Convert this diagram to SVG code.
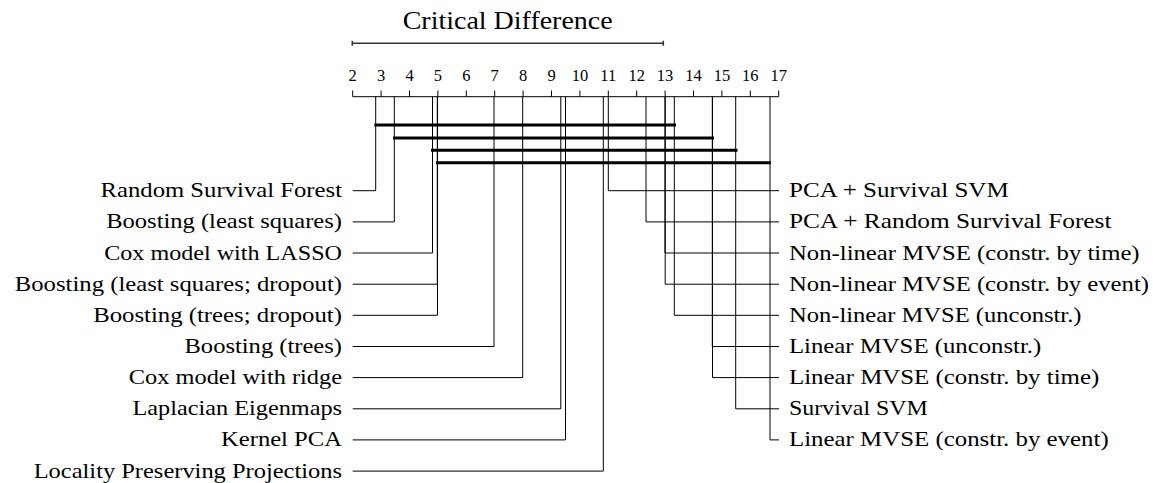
<svg xmlns="http://www.w3.org/2000/svg" width="1153" height="483" viewBox="0 0 1153 483">
<style>
text{font-family:"Liberation Serif","DejaVu Serif",serif;fill:#000}
.lbl{font-size:21px}
.l{text-anchor:end}
.tk{font-size:16.5px;text-anchor:middle}
.ttl{font-size:26px;text-anchor:middle}
.ax{stroke:#000;stroke-width:1;fill:none}
.cd{stroke:#333;stroke-width:1.6;fill:none}
.con{stroke:#000;stroke-width:1;fill:none}
.bar{stroke:#000;stroke-width:3;fill:none}
</style>
<rect width="1153" height="483" fill="#fff"/>
<g id="cd-scale" font-family="Liberation Serif, DejaVu Serif, serif">
<text class="ttl" x="507.7" y="28.5" textLength="210" lengthAdjust="spacingAndGlyphs">Critical Difference</text>
<path class="cd" d="M352.3 43.3H663.3M352.3 40.8V45.8M663.3 40.8V45.8"/>
</g>
<g id="axis" font-family="Liberation Serif, DejaVu Serif, serif">
<path class="ax" d="M352.7 96.7H778.7M352.7 90.5V96.7M381.1 90.5V96.7M409.5 90.5V96.7M437.9 90.5V96.7M466.3 90.5V96.7M494.7 90.5V96.7M523.1 90.5V96.7M551.5 90.5V96.7M579.9 90.5V96.7M608.3 90.5V96.7M636.7 90.5V96.7M665.1 90.5V96.7M693.5 90.5V96.7M721.9 90.5V96.7M750.3 90.5V96.7M778.7 90.5V96.7"/>
<text class="tk" x="352.7" y="81">2</text>
<text class="tk" x="381.1" y="81">3</text>
<text class="tk" x="409.5" y="81">4</text>
<text class="tk" x="437.9" y="81">5</text>
<text class="tk" x="466.3" y="81">6</text>
<text class="tk" x="494.7" y="81">7</text>
<text class="tk" x="523.1" y="81">8</text>
<text class="tk" x="551.5" y="81">9</text>
<text class="tk" x="579.9" y="81">10</text>
<text class="tk" x="608.3" y="81">11</text>
<text class="tk" x="636.7" y="81">12</text>
<text class="tk" x="665.1" y="81">13</text>
<text class="tk" x="693.5" y="81">14</text>
<text class="tk" x="721.9" y="81">15</text>
<text class="tk" x="750.3" y="81">16</text>
<text class="tk" x="778.7" y="81">17</text>
</g>
<g id="connectors">
<path class="con" d="M375.7 96.7V190.7H352.7"/>
<path class="con" d="M394.3 96.7V221.9H352.7"/>
<path class="con" d="M432.5 96.7V253H352.7"/>
<path class="con" d="M437.3 96.7V284.2H352.7"/>
<path class="con" d="M437.5 96.7V315.3H352.7"/>
<path class="con" d="M494 96.7V346.5H352.7"/>
<path class="con" d="M522.7 96.7V377.6H352.7"/>
<path class="con" d="M560.8 96.7V408.8H352.7"/>
<path class="con" d="M565.5 96.7V439.9H352.7"/>
<path class="con" d="M603.3 96.7V471.1H352.7"/>
<path class="con" d="M608.3 96.7V190.7H779"/>
<path class="con" d="M646 96.7V221.9H779"/>
<path class="con" d="M665 96.7V253H779"/>
<path class="con" d="M665.2 96.7V284.2H779"/>
<path class="con" d="M674.3 96.7V315.3H779"/>
<path class="con" d="M712.3 96.7V346.5H779"/>
<path class="con" d="M712.5 96.7V377.6H779"/>
<path class="con" d="M735.7 96.7V408.8H779"/>
<path class="con" d="M770 96.7V439.9H779"/>
</g>
<g id="cliques">
<path class="bar" d="M374.4 125H676"/>
<path class="bar" d="M393 138H714"/>
<path class="bar" d="M431 150.3H737.5"/>
<path class="bar" d="M436 162.7H771"/>
</g>
<g id="nodes" font-family="Liberation Serif, DejaVu Serif, serif">
<g id="n-rsf"><text class="lbl l" x="342" y="197.2" textLength="241.5" lengthAdjust="spacingAndGlyphs">Random Survival Forest</text></g>
<g id="n-bls"><text class="lbl l" x="342" y="228.4" textLength="235.8" lengthAdjust="spacingAndGlyphs">Boosting (least squares)</text></g>
<g id="n-lasso"><text class="lbl l" x="342" y="259.5" textLength="237.8" lengthAdjust="spacingAndGlyphs">Cox model with LASSO</text></g>
<g id="n-bls-drop"><text class="lbl l" x="342" y="290.7" textLength="327.2" lengthAdjust="spacingAndGlyphs">Boosting (least squares; dropout)</text></g>
<g id="n-btrees-drop"><text class="lbl l" x="342" y="321.8" textLength="248.8" lengthAdjust="spacingAndGlyphs">Boosting (trees; dropout)</text></g>
<g id="n-btrees"><text class="lbl l" x="342" y="353" textLength="157.5" lengthAdjust="spacingAndGlyphs">Boosting (trees)</text></g>
<g id="n-ridge"><text class="lbl l" x="342" y="384.1" textLength="213.2" lengthAdjust="spacingAndGlyphs">Cox model with ridge</text></g>
<g id="n-lapl"><text class="lbl l" x="342" y="415.3" textLength="209.5" lengthAdjust="spacingAndGlyphs">Laplacian Eigenmaps</text></g>
<g id="n-kpca"><text class="lbl l" x="342" y="446.4" textLength="121" lengthAdjust="spacingAndGlyphs">Kernel PCA</text></g>
<g id="n-lpp"><text class="lbl l" x="342" y="477.6" textLength="308.3" lengthAdjust="spacingAndGlyphs">Locality Preserving Projections</text></g>
<g id="n-pca-svm"><text class="lbl" x="789" y="197.2" textLength="219.8" lengthAdjust="spacingAndGlyphs">PCA + Survival SVM</text></g>
<g id="n-pca-rsf"><text class="lbl" x="789" y="228.4" textLength="322.5" lengthAdjust="spacingAndGlyphs">PCA + Random Survival Forest</text></g>
<g id="n-nl-time"><text class="lbl" x="789" y="259.5" textLength="350.6" lengthAdjust="spacingAndGlyphs">Non-linear MVSE (constr. by time)</text></g>
<g id="n-nl-event"><text class="lbl" x="789" y="290.7" textLength="360" lengthAdjust="spacingAndGlyphs">Non-linear MVSE (constr. by event)</text></g>
<g id="n-nl-unc"><text class="lbl" x="789" y="321.8" textLength="292.5" lengthAdjust="spacingAndGlyphs">Non-linear MVSE (unconstr.)</text></g>
<g id="n-lin-unc"><text class="lbl" x="789" y="353" textLength="252.2" lengthAdjust="spacingAndGlyphs">Linear MVSE (unconstr.)</text></g>
<g id="n-lin-time"><text class="lbl" x="789" y="384.1" textLength="310.3" lengthAdjust="spacingAndGlyphs">Linear MVSE (constr. by time)</text></g>
<g id="n-svm"><text class="lbl" x="789" y="415.3" textLength="138.9" lengthAdjust="spacingAndGlyphs">Survival SVM</text></g>
<g id="n-lin-event"><text class="lbl" x="789" y="446.4" textLength="319.7" lengthAdjust="spacingAndGlyphs">Linear MVSE (constr. by event)</text></g>
</g>
</svg>
